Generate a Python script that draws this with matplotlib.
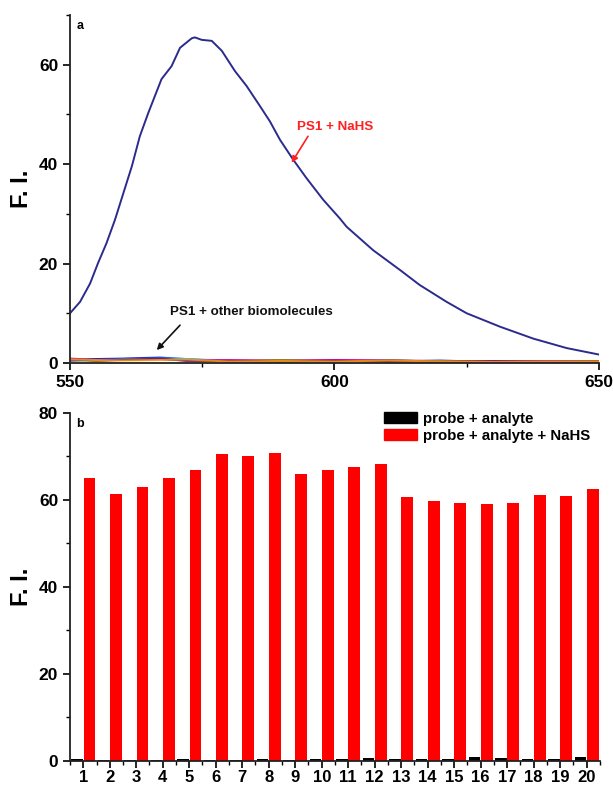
import matplotlib
matplotlib.use("Agg")
import matplotlib.pyplot as plt
from matplotlib.patches import Patch
from matplotlib.ticker import MultipleLocator

plt.rcParams['font.family'] = ['Liberation Sans', 'DejaVu Sans']
plt.rcParams['font.weight'] = 'bold'

# panel a: emission spectrum of PS1 + NaHS
wavelength = [550.0, 551.9, 553.8, 555.3, 556.9, 558.5, 560.1, 561.7, 563.2, 564.8,
              567.3, 569.2, 570.8, 573.0, 573.6, 574.9, 576.8, 578.7, 581.2, 583.4,
              585.9, 587.8, 589.7, 592.2, 594.7, 597.9, 601.0, 602.3, 607.3, 612.4,
              616.1, 621.2, 625.0, 631.3, 637.6, 643.9, 650.0]
fi_nahs = [10.0, 12.3, 16.0, 20.1, 24.1, 28.8, 34.2, 39.6, 45.6, 50.3,
           57.1, 59.7, 63.4, 65.3, 65.5, 65.0, 64.8, 62.8, 58.7, 55.7,
           51.7, 48.6, 44.9, 40.9, 37.2, 32.8, 29.1, 27.4, 22.7, 18.7,
           15.7, 12.3, 10.0, 7.3, 4.9, 3.0, 1.7]

# panel a: PS1 + other biomolecules (flat baselines)
wl_base = [550, 555, 560, 567, 572, 580, 590, 600, 610, 620, 630, 640, 650]
baselines = {
    'black':   [0.7, 0.5, 0.6, 0.8, 0.6, 0.4, 0.3, 0.4, 0.5, 0.3, 0.3, 0.4, 0.2],
    'red':     [0.9, 0.6, 0.7, 0.9, 0.7, 0.5, 0.4, 0.6, 0.4, 0.4, 0.3, 0.3, 0.3],
    'green':   [0.5, 0.7, 0.8, 1.0, 0.6, 0.4, 0.5, 0.3, 0.6, 0.3, 0.4, 0.3, 0.2],
    'blue':    [0.6, 0.8, 0.9, 1.1, 0.8, 0.3, 0.4, 0.5, 0.3, 0.5, 0.2, 0.4, 0.3],
    'cyan':    [0.4, 0.6, 0.7, 0.9, 0.8, 0.5, 0.3, 0.4, 0.4, 0.3, 0.4, 0.3, 0.3],
    'magenta': [0.8, 0.5, 0.6, 0.7, 0.6, 0.6, 0.5, 0.6, 0.5, 0.4, 0.3, 0.4, 0.2],
    'olive':   [0.6, 0.4, 0.7, 0.8, 0.5, 0.4, 0.6, 0.4, 0.3, 0.4, 0.3, 0.2, 0.4],
    'purple':  [0.5, 0.7, 0.6, 0.9, 0.4, 0.5, 0.3, 0.5, 0.4, 0.2, 0.4, 0.3, 0.3],
    'orange':  [0.7, 0.6, 0.5, 0.6, 0.7, 0.3, 0.4, 0.3, 0.5, 0.3, 0.2, 0.3, 0.3],
}

# panel b: bar data
samples = list(range(1, 21))
probe_analyte = [0.4, 0.3, 0.3, 0.3, 0.4, 0.3, 0.3, 0.4, 0.3, 0.4,
                 0.5, 0.7, 0.5, 0.5, 0.5, 0.8, 0.6, 0.5, 0.4, 0.8]
probe_analyte_nahs = [65.0, 61.4, 63.1, 65.0, 66.8, 70.5, 70.1, 70.8, 65.9, 67.0,
                      67.5, 68.2, 60.7, 59.7, 59.4, 59.1, 59.3, 61.1, 61.0, 62.5]

fig = plt.figure(figsize=(6.13, 7.85), dpi=100)
ax1 = fig.add_axes([0.1142, 0.5376, 0.8628, 0.4433])
ax2 = fig.add_axes([0.1142, 0.0306, 0.8645, 0.4433])


def style_axis(ax):
    for side in ['top', 'right']:
        ax.spines[side].set_visible(False)
    for side in ['left', 'bottom']:
        ax.spines[side].set_linewidth(1.3)
        ax.spines[side].set_color('#222222')
    ax.tick_params(which='major', direction='out', length=5, width=1.2, labelsize=12.5)
    ax.tick_params(which='minor', direction='out', length=3, width=1.0)
    for lab in ax.get_xticklabels() + ax.get_yticklabels():
        lab.set_fontweight('bold')


# --- panel a
for color, vals in baselines.items():
    ax1.plot(wl_base, vals, color=color, lw=1.4, alpha=0.8)
ax1.plot(wavelength, fi_nahs, color='#2b2b8c', lw=1.4)
ax1.set_xlim(550, 650)
ax1.set_ylim(0, 70)
ax1.xaxis.set_major_locator(MultipleLocator(50))
ax1.xaxis.set_minor_locator(MultipleLocator(25))
ax1.yaxis.set_major_locator(MultipleLocator(20))
ax1.yaxis.set_minor_locator(MultipleLocator(10))
ax1.set_ylabel('F. I.', fontsize=17, fontweight='bold', labelpad=4)
style_axis(ax1)
ax1.text(0.012, 0.985, 'a', transform=ax1.transAxes, fontsize=9,
         fontweight='bold', va='top')
ax1.text(600.1, 47.4, 'PS1 + NaHS', color='#ff2020', fontsize=9.6,
         fontweight='bold', ha='center', va='center')
ax1.annotate('', xy=(591.9, 40.3), xytext=(595.0, 45.6),
             arrowprops=dict(arrowstyle='-|>', color='#ff2020', lw=1.2,
                             mutation_scale=9, shrinkA=0, shrinkB=0))
ax1.text(584.3, 10.2, 'PS1 + other biomolecules', color='#111111', fontsize=9.6,
         fontweight='bold', ha='center', va='center')
ax1.annotate('', xy=(566.4, 2.6), xytext=(570.8, 7.6),
             arrowprops=dict(arrowstyle='-|>', color='#111111', lw=1.2,
                             mutation_scale=9, shrinkA=0, shrinkB=0))

# --- panel b
xb = [s - 0.23 for s in samples]
xr = [s + 0.23 for s in samples]
ax2.bar(xb, probe_analyte, width=0.44, color='black', label='probe + analyte')
ax2.bar(xr, probe_analyte_nahs, width=0.44, color='#ff0000',
        label='probe + analyte + NaHS')
ax2.set_xlim(0.5, 20.5)
ax2.set_ylim(0, 80)
ax2.set_xticks(samples)
ax2.xaxis.set_minor_locator(MultipleLocator(0.5))
ax2.yaxis.set_major_locator(MultipleLocator(20))
ax2.yaxis.set_minor_locator(MultipleLocator(10))
ax2.set_ylabel('F. I.', fontsize=17, fontweight='bold', labelpad=4)
style_axis(ax2)
ax2.tick_params(axis='x', which='major', labelsize=12, pad=1.5)
ax2.text(0.012, 0.985, 'b', transform=ax2.transAxes, fontsize=9,
         fontweight='bold', va='top')
handles = [Patch(color='black', label='probe + analyte'),
           Patch(color='#ff0000', label='probe + analyte + NaHS')]
leg = ax2.legend(handles=handles, loc='upper right', frameon=False,
                 prop={'size': 10.8, 'weight': 'bold'}, handlelength=2.2,
                 handleheight=0.8, labelspacing=0.2, handletextpad=0.4,
                 borderaxespad=0.1, bbox_to_anchor=(0.995, 1.025))

fig.savefig('out.png', dpi=100)
